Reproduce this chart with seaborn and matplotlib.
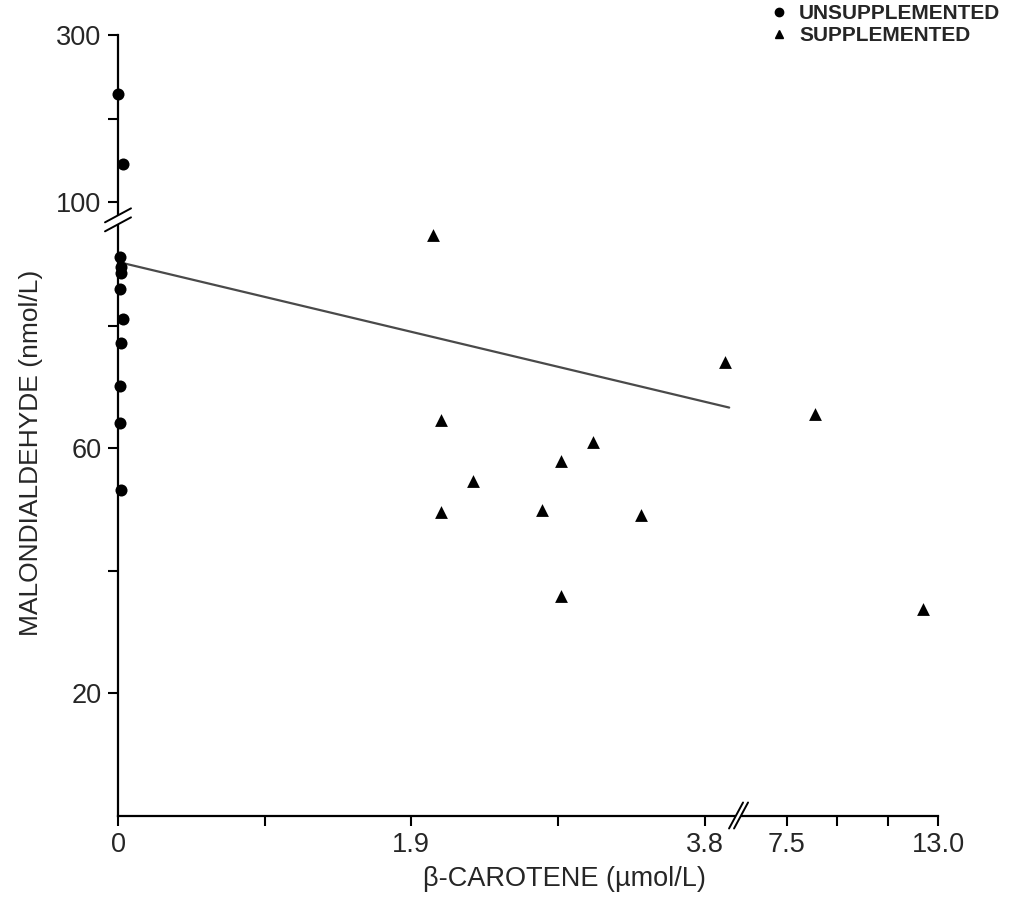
import numpy as np
import matplotlib
matplotlib.use("Agg")
import matplotlib.pyplot as plt
import seaborn as sns
from matplotlib.lines import Line2D
from matplotlib.patches import Polygon
from matplotlib.transforms import IdentityTransform

# Values
unsup_carotene = [0.0, 0.03, 0.01, 0.02, 0.02, 0.01, 0.03, 0.02, 0.01, 0.01, 0.02]
unsup_mda = [229, 145, 91.2, 89.6, 88.5, 85.9, 81.0, 77.1, 70.1, 64.1, 53.1]

sup_carotene = [2.04, 2.09, 2.09, 2.30, 2.75, 2.87, 2.87, 3.08, 3.39, 3.93, 8.52, 12.45]
sup_mda = [94.8, 64.6, 49.6, 54.6, 49.9, 57.8, 35.8, 60.9, 49.1, 74.1, 65.6, 33.7]

# regression line (drawn over the low x segment only)
fit_carotene = [0.03, 3.96]
fit_mda = [90.2, 66.6]

x_ticks = [0, 1.9, 3.8, 7.5, 13.0]
x_ticklabels = ["0", "1.9", "3.8", "7.5", "13.0"]
x_minor = [0.95, 2.85, 9.33, 11.17]
y_ticks = [20, 60, 100, 300]
y_ticklabels = ["20", "60", "100", "300"]
y_minor = [40, 80, 200]

# broken axes: piecewise linear scales (value knots -> pixel knots)
x_knots = ([0, 3.97, 6.12, 13.0], [0, 612, 630, 819])
y_knots = ([0, 96, 100, 300], [0, 588, 613.5, 780.5])


def piecewise(src, dst):
    src = np.asarray(src, float)
    dst = np.asarray(dst, float)

    def f(v):
        v = np.asarray(v, float)
        out = np.interp(v, src, dst)
        lo_slope = (dst[1] - dst[0]) / (src[1] - src[0])
        hi_slope = (dst[-1] - dst[-2]) / (src[-1] - src[-2])
        out = np.where(v < src[0], dst[0] + (v - src[0]) * lo_slope, out)
        out = np.where(v > src[-1], dst[-1] + (v - src[-1]) * hi_slope, out)
        return out
    return f


sns.set_style("ticks")
plt.rcParams["font.family"] = ["Liberation Sans", "DejaVu Sans"]

W, H = 1018, 899
fig = plt.figure(figsize=(W / 100, H / 100), dpi=100)
ax = fig.add_axes([118 / W, 83.5 / H, 820 / W, 780.5 / H])

ax.set_xscale("function", functions=(piecewise(*x_knots), piecewise(x_knots[1], x_knots[0])))
ax.set_yscale("function", functions=(piecewise(*y_knots), piecewise(y_knots[1], y_knots[0])))
ax.set_xlim(0, 13.0)
ax.set_ylim(0, 300)

sns.lineplot(x=fit_carotene, y=fit_mda, color="#4a4a4a", linewidth=1.6, ax=ax)
sns.scatterplot(x=unsup_carotene, y=unsup_mda, marker="o", s=75, color="black",
                linewidth=0, ax=ax, clip_on=False, zorder=3)
sns.scatterplot(x=sup_carotene, y=sup_mda, marker="^", s=85, color="black",
                linewidth=0, ax=ax, clip_on=False, zorder=3)

sns.despine(ax=ax)
for side in ["left", "bottom"]:
    ax.spines[side].set_linewidth(1.6)
    ax.spines[side].set_color("black")

ax.set_xticks(x_ticks)
ax.set_xticklabels(x_ticklabels)
ax.set_xticks(x_minor, minor=True)
ax.set_yticks(y_ticks)
ax.set_yticklabels(y_ticklabels)
ax.set_yticks(y_minor, minor=True)
ax.tick_params(axis="both", which="both", length=7, width=1.5, color="black",
               labelsize=19.5, direction="out")
ax.tick_params(axis="x", which="major", pad=5)
ax.tick_params(axis="y", which="major", pad=5)

fig.text(564 / W, 1 - 879 / H, "\u03b2-CAROTENE (\u00b5mol/L)", fontsize=19.5,
         ha="center", va="center")
fig.text(31 / W, 1 - 453 / H, "MALONDIALDEHYDE (nmol/L)", fontsize=19,
         ha="center", va="center", rotation=90)

# break marks on both axes
def break_mark(cx, cy, dx, dy, sep_x, sep_y):
    a = [(cx - dx - sep_x, cy - dy - sep_y), (cx + dx - sep_x, cy + dy - sep_y)]
    b = [(cx - dx + sep_x, cy - dy + sep_y), (cx + dx + sep_x, cy + dy + sep_y)]
    fill = Polygon([a[0], a[1], b[1], b[0]], closed=True, facecolor="white",
                   edgecolor="none", transform=IdentityTransform(), zorder=5)
    fig.add_artist(fill)
    for seg in (a, b):
        fig.add_artist(Line2D([seg[0][0], seg[1][0]], [seg[0][1], seg[1][1]],
                              color="black", linewidth=1.4,
                              transform=IdentityTransform(), zorder=6))

x0_disp = ax.transAxes.transform((0, 0))
yb = ax.transData.transform((0, 97.2))
break_mark(x0_disp[0], yb[1], 13, 7, 0, 4.5)
xb = ax.transData.transform((4.9, 0))
break_mark(xb[0], x0_disp[1], 7, 13, 2.5, 0)

legend_handles = [
    Line2D([], [], linestyle="None", marker="o", markersize=6, color="black", label="UNSUPPLEMENTED"),
    Line2D([], [], linestyle="None", marker="^", markersize=6, color="black", label="SUPPLEMENTED"),
]
fig.legend(handles=legend_handles, loc="upper left", bbox_to_anchor=(769 / W, 1 - 4 / H),
           frameon=False, prop={"weight": "bold", "size": 15}, handlelength=1,
           handletextpad=0.45, labelspacing=0.15, borderpad=0, borderaxespad=0)

fig.savefig("out.png", dpi=100)
